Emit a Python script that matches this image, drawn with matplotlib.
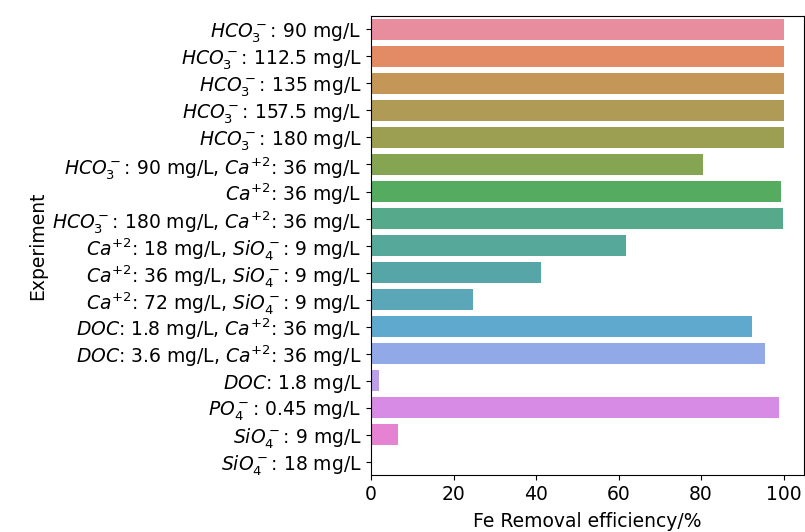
import matplotlib
matplotlib.use("Agg")
import matplotlib.pyplot as plt
import seaborn as sns

experiments = [
    r"$HCO_3^-$: 90 mg/L",
    r"$HCO_3^-$: 112.5 mg/L",
    r"$HCO_3^-$: 135 mg/L",
    r"$HCO_3^-$: 157.5 mg/L",
    r"$HCO_3^-$: 180 mg/L",
    r"$HCO_3^-$: 90 mg/L, $Ca^{+2}$: 36 mg/L",
    r"$Ca^{+2}$: 36 mg/L",
    r"$HCO_3^-$: 180 mg/L, $Ca^{+2}$: 36 mg/L",
    r"$Ca^{+2}$: 18 mg/L, $SiO_4^-$: 9 mg/L",
    r"$Ca^{+2}$: 36 mg/L, $SiO_4^-$: 9 mg/L",
    r"$Ca^{+2}$: 72 mg/L, $SiO_4^-$: 9 mg/L",
    r"$DOC$: 1.8 mg/L, $Ca^{+2}$: 36 mg/L",
    r"$DOC$: 3.6 mg/L, $Ca^{+2}$: 36 mg/L",
    r"$DOC$: 1.8 mg/L",
    r"$PO_4^-$: 0.45 mg/L",
    r"$SiO_4^-$: 9 mg/L",
    r"$SiO_4^-$: 18 mg/L",
]
removal = [100, 100, 100, 100, 100, 80.5, 99.4, 99.9, 61.9, 41.2, 24.6,
           92.3, 95.4, 1.9, 99.0, 6.5, 0.0]

# seaborn's default husl palette for many categories, desaturated like barplot
colors = [sns.desaturate(c, 0.75) for c in sns.color_palette("husl", len(experiments))]

fig = plt.figure(figsize=(8.05, 5.32), dpi=100)
ax = fig.add_axes([0.461, 0.107, 0.538, 0.863])

pos = list(range(len(experiments)))
ax.barh(pos, removal, height=0.8, color=colors, alpha=0.9)
ax.set_yticks(pos)
ax.set_yticklabels(experiments, fontsize=13.5)
ax.set_ylim(len(experiments) - 0.5, -0.5)
ax.set_xlim(0, 105)
ax.set_xticks([0, 20, 40, 60, 80, 100])
ax.tick_params(axis="x", labelsize=13.5)
ax.set_xlabel("Fe Removal efficiency/%", fontsize=13.5, labelpad=6)
ax.set_ylabel("Experiment", fontsize=13.5)

fig.savefig("out.png", dpi=100)
